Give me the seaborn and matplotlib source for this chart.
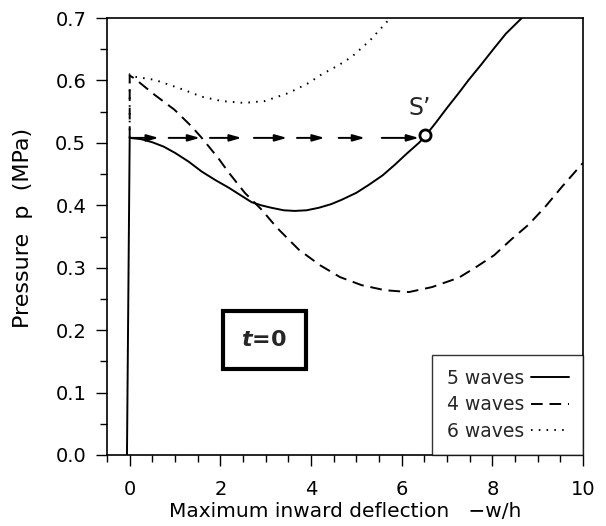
import numpy as np
import pandas as pd
import matplotlib
matplotlib.use("Agg")
import matplotlib.pyplot as plt
import seaborn as sns

# 5 waves (solid) - starts with the near vertical loading line
x5 = [-0.06, 0.0, 0.25, 0.5, 0.75, 1.0, 1.3, 1.59, 1.9, 2.19, 2.45, 2.69, 2.9, 3.13, 3.4, 3.64, 3.9, 4.17, 4.45,
      4.68, 5.0, 5.28, 5.58, 5.85, 6.1, 6.38, 6.51, 6.75, 7.0, 7.25, 7.48, 7.75, 8.0, 8.3, 8.65]
p5 = [0.0, 0.508, 0.506, 0.501, 0.494, 0.484, 0.470, 0.454, 0.440, 0.428, 0.416, 0.405, 0.400, 0.396, 0.392, 0.391,
      0.392, 0.396, 0.402, 0.409, 0.420, 0.433, 0.448, 0.465, 0.482, 0.500, 0.510, 0.532, 0.556, 0.579, 0.601,
      0.625, 0.648, 0.675, 0.700]

# 4 waves (dashed)
x4 = [0.0, 0.0, 0.11, 0.55, 0.99, 1.37, 1.59, 1.96, 2.19, 2.54, 2.91, 3.25, 3.73, 4.2, 4.64, 5.12, 5.63, 6.16,
      6.67, 7.26, 7.62, 8.04, 8.43, 8.8, 9.16, 9.54, 10.0]
p4 = [0.508, 0.608, 0.603, 0.577, 0.553, 0.526, 0.508, 0.475, 0.452, 0.420, 0.393, 0.364, 0.329, 0.304, 0.285,
      0.272, 0.264, 0.261, 0.269, 0.284, 0.300, 0.320, 0.346, 0.369, 0.397, 0.430, 0.468]

# 6 waves (dotted)
x6 = [0.0, 0.0, 0.11, 0.55, 1.08, 1.59, 2.03, 2.52, 2.98, 3.51, 3.95, 4.24, 4.6, 4.9, 5.3, 5.75]
p6 = [0.508, 0.610, 0.606, 0.601, 0.588, 0.574, 0.567, 0.564, 0.567, 0.580, 0.596, 0.610, 0.624, 0.638, 0.664, 0.700]

# snap-through path at constant pressure
arrow_p = 0.508
arrow_start = [0.0, 0.86, 1.77, 2.74, 3.69, 4.61, 5.56]
arrow_end = [0.64, 1.55, 2.47, 3.47, 4.30, 5.19, 6.38]
s_point = (6.51, 0.513)

sns.set_style("ticks")
plt.rcParams["font.family"] = ["DejaVu Sans"]

fig = plt.figure(figsize=(6.06, 5.26), dpi=100)
ax = fig.add_axes([0.1766, 0.135, 0.7854, 0.8307])

lw = 1.4
sns.lineplot(x=x5, y=p5, sort=False, estimator=None, color="black", lw=lw, ax=ax, label="5 waves")
sns.lineplot(x=x4, y=p4, sort=False, estimator=None, color="black", lw=lw, ax=ax, label="4 waves")
sns.lineplot(x=x6, y=p6, sort=False, estimator=None, color="black", lw=lw, ax=ax, label="6 waves")
lines = ax.get_lines()
lines[1].set_dashes((6, 3.5))
lines[2].set_dashes((0.8, 3.2))

for s, e in zip(arrow_start, arrow_end):
    ax.annotate("", xy=(e, arrow_p), xytext=(s, arrow_p),
                arrowprops=dict(arrowstyle="-|>,head_length=0.7,head_width=0.2",
                                lw=lw, color="black", shrinkA=0, shrinkB=0))

ax.plot([s_point[0]], [s_point[1]], marker="o", ms=8, mfc="white", mec="black", mew=2, zorder=5)
ax.text(s_point[0] - 0.1, s_point[1] + 0.024, "S\u2019", fontsize=17, ha="center", va="bottom")

ax.text(2.97, 0.184, r"$\mathbfit{t}$=0", fontsize=16, fontweight="bold", ha="center", va="center",
        bbox=dict(boxstyle="square,pad=0.85", fc="white", ec="black", lw=3))

ax.set_xlim(-0.5, 10)
ax.set_ylim(0, 0.7)
ax.set_xticks([0, 2, 4, 6, 8, 10])
ax.set_xticks(np.arange(-0.5, 10.01, 0.5), minor=True)
ax.set_yticks(np.arange(0, 0.71, 0.1))
ax.set_yticks(np.arange(0, 0.71, 0.05), minor=True)
ax.set_yticklabels([f"{v:.1f}" for v in np.arange(0, 0.71, 0.1)])
ax.tick_params(which="major", length=8, width=1, labelsize=14, pad=7, color="black", labelcolor="black")
ax.tick_params(axis="x", which="major", pad=10)
ax.tick_params(which="minor", length=5, width=1, color="black")
for sp in ax.spines.values():
    sp.set_visible(True)
    sp.set_linewidth(1.2)
    sp.set_color("black")

ax.set_xlabel("Maximum inward deflection   \u2212w/h", fontsize=14.5, color="black", labelpad=2)
ax.set_ylabel("Pressure  p  (MPa)", fontsize=16, color="black")
ax.yaxis.set_label_coords(-0.155, 0.52)

leg = ax.legend(loc="lower right", borderaxespad=0, markerfirst=False, fontsize=13.5,
                handlelength=2.0, frameon=True, fancybox=False, labelspacing=0.4,
                borderpad=0.75, handletextpad=0.4)
leg.get_frame().set_edgecolor("black")
leg.get_frame().set_linewidth(1.0)

fig.savefig("out.png", dpi=100)
